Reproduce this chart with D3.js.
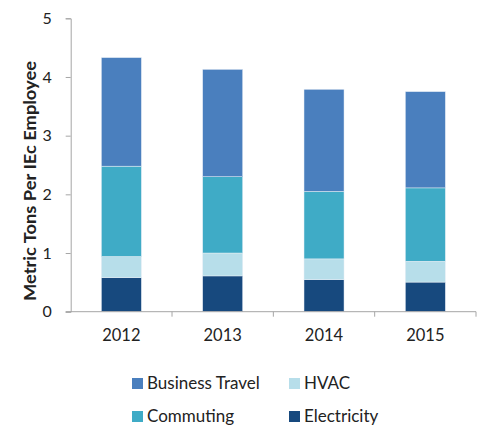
<!DOCTYPE html>
<html><head><meta charset="utf-8">
<script src="https://cdn.jsdelivr.net/npm/d3@7"></script>
<style>body{margin:0;background:#fff;} text{font-family:Lato, "Open Sans", sans-serif;fill:#222;}</style>
</head><body>
<svg id="c" width="482" height="425"></svg>
<script>
const years = ["2012","2013","2014","2015"];
const electricity = [0.58, 0.61, 0.545, 0.505];
const hvac = [0.36, 0.39, 0.355, 0.355];
const commuting = [1.54, 1.30, 1.15, 1.25];
const businessTravel = [1.85, 1.83, 1.74, 1.64];
const seriesNames = ["Electricity","HVAC","Commuting","Business Travel"];
const seriesColors = ["#17497E","#B7DEEA","#3FABC6","#4A7FBE"];
const yTicks = [0,1,2,3,4,5];

(function(){
const rows = years.map((y,i)=>({year:y, "Electricity":electricity[i], "HVAC":hvac[i], "Commuting":commuting[i], "Business Travel":businessTravel[i]}));
const stack = d3.stack().keys(seriesNames)(rows);

const svg = d3.select("#c");
const mL = 70.7, mR = 476, mT = 18.3, mB = 311.7;
const x = d3.scaleBand().domain(years).range([mL,mR]).paddingInner(0.605).paddingOuter(0.3025);
const xb = d3.scaleBand().domain(years).range([mL,mR]);
const y = d3.scaleLinear().domain([0,5]).range([mB,mT]);
const color = d3.scaleOrdinal().domain(seriesNames).range(seriesColors);

svg.append("g").selectAll("g").data(stack).join("g").attr("fill",d=>color(d.key))
  .selectAll("rect").data(d=>d).join("rect")
  .attr("x",d=>x(d.data.year)).attr("width",x.bandwidth())
  .attr("y",d=>y(d[1])).attr("height",d=>y(d[0])-y(d[1]))
  .attr("stroke","#e8eef5").attr("stroke-width",0.5);

// y axis
const ya = svg.append("g").attr("transform",`translate(${mL},0)`)
  .call(d3.axisLeft(y).tickValues(yTicks).tickFormat(d3.format("d")).tickSize(5).tickPadding(14));
ya.select(".domain").attr("stroke","#a6a6a6");
ya.selectAll(".tick line").attr("stroke","#a6a6a6");
ya.selectAll("text").attr("font-size",16).attr("fill","#222").style("font-family","Lato, 'Open Sans', sans-serif");

// x axis
const xa = svg.append("g").attr("transform",`translate(0,${mB})`);
xa.append("line").attr("x1",mL-5).attr("x2",mR).attr("y1",0).attr("y2",0).attr("stroke","#a6a6a6");
xa.selectAll("line.t").data(years.slice(1).concat(["end"])).join("line").attr("class","t")
  .attr("x1",d=>d==="end"?mR:xb(d)).attr("x2",d=>d==="end"?mR:xb(d))
  .attr("y1",0).attr("y2",5).attr("stroke","#a6a6a6");
xa.selectAll("text").data(years).join("text")
  .attr("x",d=>xb(d)+xb.bandwidth()/2).attr("y",29.5).attr("text-anchor","middle")
  .attr("font-size",16.5).text(d=>d);

// y title
svg.append("text").attr("transform","translate(36,181) rotate(-90)").attr("text-anchor","middle")
  .attr("font-size",17).attr("font-weight","bold")
  .attr("textLength",240).attr("lengthAdjust","spacingAndGlyphs")
  .text("Metric Tons Per IEc Employee");

// legend
const legendItems = [
  {name:"Business Travel", col:0, row:0},
  {name:"HVAC", col:1, row:0},
  {name:"Commuting", col:0, row:1},
  {name:"Electricity", col:1, row:1}
];
const lg = svg.append("g").selectAll("g").data(legendItems).join("g")
  .attr("transform",d=>`translate(${d.col?289:132},${d.row?411:378})`);
lg.append("rect").attr("width",11).attr("height",11).attr("fill",d=>color(d.name));
lg.append("text").attr("x",15).attr("y",10.5).attr("font-size",17).text(d=>d.name);
})();
</script>
</body></html>
